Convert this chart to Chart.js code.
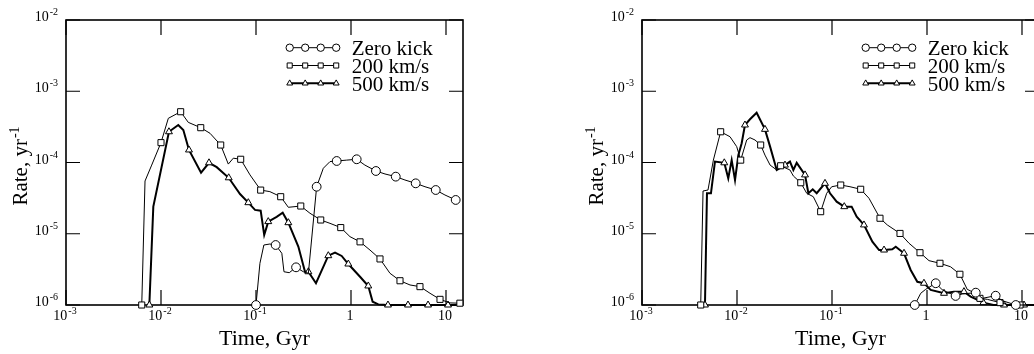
<!DOCTYPE html>
<html>
<head>
<meta charset="utf-8">
<script src="https://cdn.jsdelivr.net/npm/chart.js@4.4.1/dist/chart.umd.min.js"></script>
<style>
html, body { margin: 0; padding: 0; overflow: hidden; background: #fff; width: 1034px; height: 354px; }
canvas { position: absolute; top: 0; }
</style>
</head>
<body>
<canvas id="chartLeft" width="520" height="354" style="left:0"></canvas>
<canvas id="chartRight" width="580" height="354" style="left:520px"></canvas>
<script>
// tick positions (powers of ten)
const timeTickExps = [-3, -2, -1, 0, 1];
const rateTickExps = [-6, -5, -4, -3, -2];
const seriesLabels = ['Zero kick', '200 km/s', '500 km/s'];

// Left panel - time in Gyr, rate in 1/yr, 1 = point carries a marker
const leftZeroTime = [0.1, 0.110, 0.121, 0.140, 0.161, 0.187, 0.197, 0.224, 0.264, 0.315, 0.356, 0.435, 0.511, 0.601, 0.707, 0.901, 1.148, 1.40, 1.83, 2.28, 2.96, 3.70, 4.80, 6.01, 7.80, 9.75, 12.65];
const leftZeroRate = [1e-6, 3.85e-6, 6.95e-6, 7.18e-6, 6.95e-6, 5.32e-6, 2.93e-6, 2.84e-6, 3.38e-6, 2.93e-6, 2.79e-6, 4.57e-5, 8.3e-5, 1.03e-4, 1.05e-4, 1.08e-4, 1.11e-4, 9.2e-5, 7.6e-5, 6.9e-5, 6.33e-5, 5.68e-5, 5.1e-5, 4.57e-5, 4.11e-5, 3.5e-5, 2.98e-5];
const leftZeroMark = [1,0,0,0,1,0,0,0,1,0,0,1,0,0,1,0,1,0,1,0,1,0,1,0,1,0,1];

const left200Time = [0.00627, 0.00679, 0.00798, 0.0100, 0.01194, 0.0161, 0.01937, 0.0262, 0.0328, 0.0425, 0.0511, 0.0577, 0.069, 0.0865, 0.112, 0.140, 0.182, 0.219, 0.296, 0.370, 0.480, 0.601, 0.780, 0.976, 1.245, 1.585, 2.02, 2.57, 3.28, 4.18, 5.32, 6.79, 8.65, 11.0, 14.0];
const left200Rate = [1e-6, 5.5e-5, 9.2e-5, 1.9e-4, 4.17e-4, 5.16e-4, 3.66e-4, 3.08e-4, 2.57e-4, 1.76e-4, 9.5e-5, 1.15e-4, 1.11e-4, 6.7e-5, 4.1e-5, 3.9e-5, 3.31e-5, 2.35e-5, 2.45e-5, 1.94e-5, 1.56e-5, 1.40e-5, 1.22e-5, 9.1e-6, 7.7e-6, 5.9e-6, 4.43e-6, 2.79e-6, 2.19e-6, 1.91e-6, 1.81e-6, 1.46e-6, 1.20e-6, 1.07e-6, 1.06e-6];
const left200Mark = [1,0,0,1,0,1,0,1,0,1,0,0,1,0,1,0,1,0,1,0,1,0,1,0,1,0,1,0,1,0,1,0,1,0,1];

const left500Time = [0.00754, 0.0083, 0.01213, 0.0152, 0.01718, 0.0197, 0.0264, 0.032, 0.0386, 0.0516, 0.0679, 0.083, 0.0976, 0.112, 0.122, 0.1346, 0.165, 0.191, 0.219, 0.279, 0.328, 0.356, 0.428, 0.577, 0.679, 0.798, 0.937, 1.245, 1.52, 1.69, 1.94, 2.45, 3.12, 3.98, 5.06, 6.47, 8.24, 10.5, 13.4];
const left500Rate = [1e-6, 2.4e-5, 2.7e-4, 3.36e-4, 2.86e-4, 1.5e-4, 7.2e-5, 9.9e-5, 8.6e-5, 6.1e-5, 3.61e-5, 2.73e-5, 2.16e-5, 2.11e-5, 9.6e-6, 1.48e-5, 1.73e-5, 1.97e-5, 1.43e-5, 6.6e-6, 2.93e-6, 2.93e-6, 2.02e-6, 4.92e-6, 5.42e-6, 4.88e-6, 3.76e-6, 2.49e-6, 1.85e-6, 1.11e-6, 1.02e-6, 1e-6, 1e-6, 1e-6, 1e-6, 1e-6, 1e-6, 1e-6, 1e-6];
const left500Mark = [1,0,1,0,0,1,0,1,0,1,0,1,0,0,0,1,0,0,1,0,0,1,0,1,0,0,1,0,1,0,0,1,0,1,0,1,0,1,0];

// Right panel
const rightZeroTime = [0.743, 0.859, 0.969, 1.236, 1.45, 2.00, 2.35, 3.26, 3.82, 5.28, 6.21, 8.6, 12.0];
const rightZeroRate = [1e-6, 1.46e-6, 1.66e-6, 2.02e-6, 1.63e-6, 1.34e-6, 1.43e-6, 1.49e-6, 1.24e-6, 1.35e-6, 1.15e-6, 1e-6, 1e-6];
const rightZeroMark = [1,0,0,1,0,1,0,1,0,1,0,1,0];

const right200Time = [0.00415, 0.00439, 0.00495, 0.00564, 0.00673, 0.00844, 0.00993, 0.01094, 0.01265, 0.0137, 0.01547, 0.01775, 0.0197, 0.0223, 0.0262, 0.0288, 0.0361, 0.0392, 0.0469, 0.0542, 0.0636, 0.076, 0.0879, 0.0993, 0.1236, 0.1546, 0.2004, 0.245, 0.320, 0.382, 0.520, 0.647, 0.844, 1.05, 1.37, 1.77, 2.22, 2.65, 3.12, 3.61, 4.32, 5.87, 7.48, 9.53, 12.1];
const right200Rate = [1e-6, 3.98e-5, 4.11e-5, 1.08e-4, 2.7e-4, 2.3e-4, 1.67e-4, 1.08e-4, 2.07e-4, 2.23e-4, 2.07e-4, 1.76e-4, 1.27e-4, 9.2e-5, 7.85e-5, 9.0e-5, 7.85e-5, 6.47e-5, 5.2e-5, 3.7e-5, 3.31e-5, 2.04e-5, 3.7e-5, 4.57e-5, 4.83e-5, 4.57e-5, 4.21e-5, 3.15e-5, 1.65e-5, 1.33e-5, 1.01e-5, 7.35e-6, 5.42e-6, 4.19e-6, 3.85e-6, 3.44e-6, 2.7e-6, 1.66e-6, 1.49e-6, 1.24e-6, 1.2e-6, 1.08e-6, 1e-6, 1e-6, 1e-6];
const right200Mark = [1,0,0,0,1,0,0,1,0,0,0,1,0,0,0,1,0,0,1,0,0,1,0,0,1,0,1,0,1,0,1,0,1,0,1,0,1,0,0,1,0,1,0,1,0];

const right500Time = [0.0046, 0.00483, 0.00532, 0.00586, 0.00735, 0.00809, 0.00879, 0.00953, 0.01033, 0.0112, 0.01213, 0.0137, 0.0161, 0.0197, 0.0223, 0.0262, 0.032, 0.0361, 0.0392, 0.0425, 0.052, 0.0564, 0.0627, 0.069, 0.0844, 0.0953, 0.112, 0.1346, 0.161, 0.182, 0.217, 0.266, 0.313, 0.353, 0.431, 0.469, 0.573, 0.673, 0.791, 0.929, 1.094, 1.51, 1.92, 2.45, 2.88, 3.92, 5.0, 6.47, 8.2, 10.5, 13.4];
const right500Rate = [1e-6, 3.7e-5, 3.7e-5, 1.03e-4, 9.9e-5, 6.0e-5, 1.08e-4, 5.68e-5, 1.27e-4, 1.86e-4, 3.36e-4, 4.04e-4, 5.0e-4, 2.92e-4, 1.67e-4, 7.85e-5, 9.2e-5, 1.03e-4, 7.85e-5, 9.9e-5, 6.7e-5, 3.7e-5, 4.21e-5, 3.7e-5, 5.1e-5, 3.7e-5, 2.82e-5, 2.4e-5, 2.4e-5, 1.73e-5, 1.33e-5, 7.73e-6, 5.91e-6, 5.91e-6, 6.05e-6, 6.58e-6, 5.32e-6, 3.1e-6, 2.12e-6, 2.02e-6, 1.63e-6, 1.46e-6, 1.54e-6, 1.54e-6, 1.31e-6, 1.08e-6, 1e-6, 1e-6, 1e-6, 1e-6, 1e-6];
const right500Mark = [1,0,0,0,1,0,0,0,0,0,1,0,0,1,0,0,1,0,0,0,1,0,0,0,1,0,0,1,0,0,1,0,0,1,0,0,1,0,0,1,0,1,0,1,0,1,0,1,0,1,0];

const FONT = '"Liberation Serif", "Times New Roman", serif';
const STYLES = [
    { point: 'circle', width: 1, radius: 4.4, legendRadius: 3.7 },
    { point: 'rect', width: 1, radius: 4.3, legendRadius: 3.6 },
    { point: 'triangle', width: 2, radius: 4.0, legendRadius: 3.4 }
];

function makeDataset(i, times, rates, marks) {
    const st = STYLES[i];
    return {
        label: seriesLabels[i],
        data: times.map((t, k) => ({ x: t, y: rates[k] })),
        borderColor: '#000',
        borderWidth: st.width,
        pointStyle: st.point,
        pointRadius: marks.map(m => m ? st.radius : 0),
        pointHoverRadius: 0,
        pointBackgroundColor: '#fff',
        pointBorderColor: '#000',
        pointBorderWidth: 1,
        tension: 0,
        clip: false
    };
}

// "10" with a raised exponent
function drawPower(ctx, exp, x, y, align) {
    let base = '10', sup = String(exp);
    if (exp === 0) { base = '1'; sup = ''; }
    if (exp === 1) { sup = ''; }
    ctx.textAlign = 'left';
    ctx.textBaseline = 'alphabetic';
    ctx.font = '14px ' + FONT;
    const wb = ctx.measureText(base).width;
    ctx.font = '10px ' + FONT;
    const ws = sup ? ctx.measureText(sup).width + 1 : 0;
    const w = wb + ws;
    const x0 = align === 'right' ? x - w : x - w / 2;
    ctx.font = '14px ' + FONT;
    ctx.fillText(base, x0, y);
    if (sup) {
        ctx.font = '10px ' + FONT;
        ctx.fillText(sup, x0 + wb + 1, y - 6);
    }
}

function drawMarker(ctx, style, x, y, r) {
    ctx.beginPath();
    if (style === 'circle') {
        ctx.arc(x, y, r, 0, Math.PI * 2);
    } else if (style === 'rect') {
        const s = r * Math.SQRT1_2;
        ctx.rect(x - s, y - s, 2 * s, 2 * s);
    } else {
        const h = r * 1.5, hw = r * Math.sqrt(3) / 2;
        ctx.moveTo(x, y - r);
        ctx.lineTo(x + hw, y - r + h);
        ctx.lineTo(x - hw, y - r + h);
        ctx.closePath();
    }
    ctx.fillStyle = '#fff';
    ctx.fill();
    ctx.lineWidth = 1;
    ctx.stroke();
}

const framePlugin = {
    id: 'frame',
    beforeDatasetsDraw(chart) {
        const ctx = chart.ctx, a = chart.chartArea;
        const xs = chart.scales.x, ys = chart.scales.y;
        ctx.save();
        ctx.strokeStyle = '#000';
        ctx.fillStyle = '#000';

        // inward ticks on all four sides
        ctx.lineWidth = 1.2;
        ctx.beginPath();
        timeTickExps.forEach(e => {
            const px = xs.getPixelForValue(Math.pow(10, e));
            ctx.moveTo(px, a.bottom); ctx.lineTo(px, a.bottom - 15);
            ctx.moveTo(px, a.top); ctx.lineTo(px, a.top + 15);
        });
        rateTickExps.forEach(e => {
            const py = ys.getPixelForValue(Math.pow(10, e));
            ctx.moveTo(a.left, py); ctx.lineTo(a.left + 14, py);
            ctx.moveTo(a.right, py); ctx.lineTo(a.right - 14, py);
        });
        ctx.stroke();

        ctx.lineWidth = 1.6;
        ctx.strokeRect(a.left, a.top, a.right - a.left, a.bottom - a.top);

        // tick labels
        timeTickExps.forEach(e => {
            drawPower(ctx, e, xs.getPixelForValue(Math.pow(10, e)) - 1, a.bottom + 15, 'center');
        });
        rateTickExps.forEach(e => {
            drawPower(ctx, e, a.left - 8, ys.getPixelForValue(Math.pow(10, e)) + 1, 'right');
        });

        // axis titles
        ctx.font = '22px ' + FONT;
        ctx.textAlign = 'center';
        ctx.fillText('Time, Gyr', (a.left + a.right) / 2, a.bottom + 39.5);

        ctx.save();
        ctx.translate(a.left - 39, a.top + 146);
        ctx.rotate(-Math.PI / 2);
        ctx.font = '21px ' + FONT;
        const wMain = ctx.measureText('Rate, yr').width;
        ctx.font = '14px ' + FONT;
        const wSup = ctx.measureText('-1').width;
        const start = -(wMain + wSup + 1) / 2;
        ctx.textAlign = 'left';
        ctx.font = '21px ' + FONT;
        ctx.fillText('Rate, yr', start, 0);
        ctx.font = '14px ' + FONT;
        ctx.fillText('-1', start + wMain + 1, -8);
        ctx.restore();

        // legend with four markers per sample
        const x1 = a.right - 173.3, step = 15.5, xt = a.right - 111.3;
        STYLES.forEach((st, i) => {
            const y = a.top + 27.7 + i * 17.8;
            ctx.lineWidth = st.width;
            ctx.beginPath();
            ctx.moveTo(x1, y); ctx.lineTo(x1 + 3 * step, y);
            ctx.stroke();
            for (let k = 0; k < 4; k++) drawMarker(ctx, st.point, x1 + k * step, y, st.legendRadius);
            ctx.fillStyle = '#000';
            ctx.font = '21px ' + FONT;
            ctx.textAlign = 'left';
            ctx.fillText(seriesLabels[i], xt, a.top + 34.5 + i * 18);
        });
        ctx.restore();
    }
};

function makeChart(id, pad, datasets) {
    return new Chart(document.getElementById(id), {
        type: 'line',
        data: { datasets: datasets },
        options: {
            responsive: false,
            animation: false,
            devicePixelRatio: 1,
            events: [],
            layout: { padding: pad },
            plugins: { legend: { display: false }, tooltip: { enabled: false } },
            scales: {
                x: { type: 'logarithmic', min: 1e-3, max: 15.1, display: false },
                y: { type: 'logarithmic', min: 1e-6, max: 1e-2, display: false }
            }
        },
        plugins: [framePlugin]
    });
}

makeChart('chartLeft', { left: 66, top: 20, right: 57, bottom: 49 }, [
    makeDataset(0, leftZeroTime, leftZeroRate, leftZeroMark),
    makeDataset(1, left200Time, left200Rate, left200Mark),
    makeDataset(2, left500Time, left500Rate, left500Mark)
]);

makeChart('chartRight', { left: 122, top: 20, right: 61, bottom: 49 }, [
    makeDataset(0, rightZeroTime, rightZeroRate, rightZeroMark),
    makeDataset(1, right200Time, right200Rate, right200Mark),
    makeDataset(2, right500Time, right500Rate, right500Mark)
]);
</script>
</body>
</html>
